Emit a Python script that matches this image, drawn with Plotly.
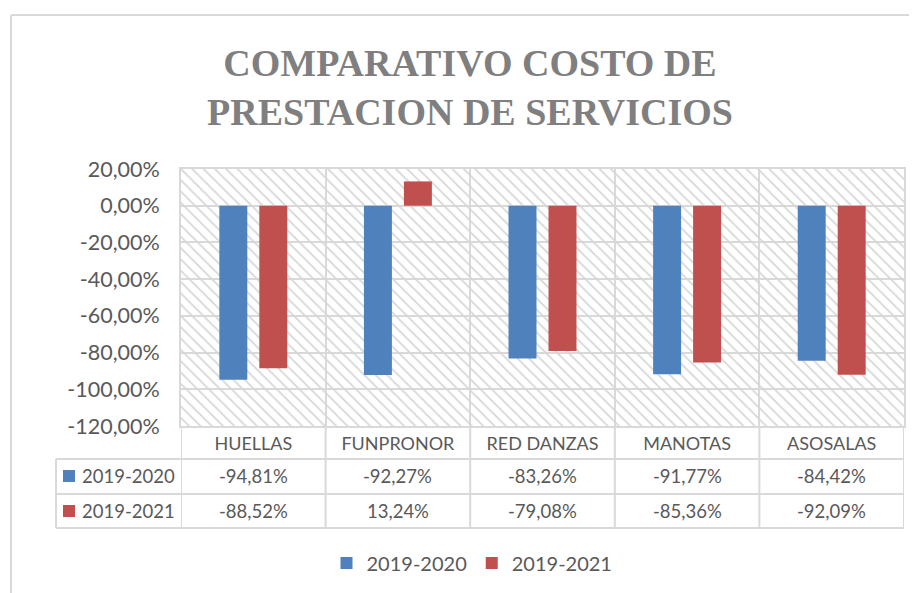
import plotly.graph_objects as go

categories = ["HUELLAS", "FUNPRONOR", "RED DANZAS", "MANOTAS", "ASOSALAS"]
series_names = ["2019-2020", "2019-2021"]
values_2019_2020 = [-0.9481, -0.9227, -0.8326, -0.9177, -0.8442]
values_2019_2021 = [-0.8852, 0.1324, -0.7908, -0.8536, -0.9209]
colors = ["#4F81BD", "#C0504D"]
y_tick_vals = [0.2, 0.0, -0.2, -0.4, -0.6, -0.8, -1.0, -1.2]
y_tick_text = ["20,00%", "0,00%", "-20,00%", "-40,00%", "-60,00%", "-80,00%", "-100,00%", "-120,00%"]
title_text = "COMPARATIVO COSTO DE<br>PRESTACION DE SERVICIOS"

Y_MIN, Y_MAX = -1.2, 0.2
OFF = 8  # page body margin
SW, SH = 917, 593
W, H = SW - OFF, SH - OFF
P_LEFT, P_RIGHT, P_TOP, P_BOTTOM = 181, 904, 169, 426  # plot area, screen px
L, R, T, B = P_LEFT - OFF, SW - P_RIGHT, P_TOP - OFF, SH - P_BOTTOM
PW, PH = P_RIGHT - P_LEFT, P_BOTTOM - P_TOP
GRID = "#D9D9D9"
TXT = "#595959"
FONT = "Lato"


def px2x(px):
    return (px - P_LEFT) / PW


def py2y(py):
    return (P_BOTTOM - py) / PH


def fmt(v):
    return f"{v*100:.2f}%".replace(".", ",")


fig = go.Figure()

# hatched plot-area background (behind the data bars)
fig.add_trace(go.Bar(
    x=categories, y=[Y_MAX - Y_MIN] * len(categories), base=[Y_MIN] * len(categories),
    width=1, xaxis="x", yaxis="y", showlegend=False, hoverinfo="skip",
    marker=dict(color="rgba(0,0,0,0)", line=dict(width=0),
                pattern=dict(shape="\\", fgcolor="#D6D6D6", bgcolor="rgba(0,0,0,0)",
                             size=8, solidity=0.22, fillmode="replace")),
))

for name, vals, col in zip(series_names, [values_2019_2020, values_2019_2021], colors):
    fig.add_trace(go.Bar(x=categories, y=vals, name=name, marker=dict(color=col, line=dict(width=0)),
                         xaxis="x2", yaxis="y"))

shapes = []
# outer chart border (left & top)
shapes.append(dict(type="line", xref="paper", yref="paper", x0=px2x(11), x1=px2x(11),
                   y0=py2y(15), y1=py2y(600), line=dict(color=GRID, width=2)))
shapes.append(dict(type="line", xref="paper", yref="paper", x0=px2x(11), x1=px2x(930),
                   y0=py2y(15), y1=py2y(15), line=dict(color=GRID, width=2)))

# data table borders
row_lines = [459, 494, 528]
for ry in row_lines:
    shapes.append(dict(type="line", xref="paper", yref="paper", x0=px2x(56), x1=1,
                       y0=py2y(ry), y1=py2y(ry), line=dict(color=GRID, width=2)))
for i in range(len(categories) + 1):
    shapes.append(dict(type="line", xref="x", yref="paper", x0=i - 0.5, x1=i - 0.5,
                       y0=0, y1=py2y(528), line=dict(color=GRID, width=2)))
shapes.append(dict(type="line", xref="paper", yref="paper", x0=px2x(56), x1=px2x(56),
                   y0=py2y(459), y1=py2y(528), line=dict(color=GRID, width=2)))

annotations = []
row_centers = [476, 511]
for name, vals, col, rc in zip(series_names, [values_2019_2020, values_2019_2021], colors, row_centers):
    shapes.append(dict(type="rect", xref="paper", yref="paper", x0=px2x(63), x1=px2x(75),
                       y0=py2y(rc + 6), y1=py2y(rc - 6), fillcolor=col, line=dict(width=0)))
    annotations.append(dict(xref="paper", yref="paper", x=px2x(80), y=py2y(rc), text=name,
                            showarrow=False, xanchor="left", yanchor="middle",
                            font=dict(family=FONT, size=18.5, color=TXT)))
    for c, v in zip(categories, vals):
        annotations.append(dict(xref="x", yref="paper", x=c, y=py2y(rc), text=fmt(v),
                                showarrow=False, xanchor="center", yanchor="middle",
                                font=dict(family=FONT, size=18.5, color=TXT)))

axis_common = dict(type="category", categoryorder="array", categoryarray=categories,
                   range=[-0.5, len(categories) - 0.5])

fig.update_layout(
    width=W, height=H,
    margin=dict(l=L, r=R, t=T, b=B, autoexpand=False),
    paper_bgcolor="white", plot_bgcolor="white",
    barmode="group", bargap=0.447, bargroupgap=0.3,
    title=dict(text=title_text, x=(470 - OFF) / W, xref="container", xanchor="center",
               y=1 - 68 / H, yref="container", yanchor="middle",
               font=dict(family="Liberation Serif", size=38, color="#7F7F7F", weight="bold")),
    xaxis=dict(**axis_common, showgrid=True, gridcolor=GRID, gridwidth=2, tickson="boundaries",
               ticks="", showline=True, linecolor=GRID, linewidth=2, mirror=True,
               tickfont=dict(family=FONT, size=18, color=TXT), ticklabelstandoff=0),
    xaxis2=dict(**axis_common, overlaying="x", visible=False),
    yaxis=dict(range=[Y_MIN, Y_MAX], tickvals=y_tick_vals, ticktext=y_tick_text,
               showgrid=True, gridcolor=GRID, gridwidth=2, zeroline=True, zerolinecolor=GRID,
               zerolinewidth=2, showline=True, linecolor=GRID, linewidth=2, mirror=True,
               ticks="", ticklabelstandoff=15,
               tickfont=dict(family=FONT, size=21.5, color=TXT)),
    legend=dict(orientation="h", x=px2x(472), xanchor="center", y=py2y(563), yanchor="middle",
                font=dict(family=FONT, size=20, color=TXT), traceorder="normal"),
    shapes=shapes, annotations=annotations,
)

fig.write_html("out.html")
